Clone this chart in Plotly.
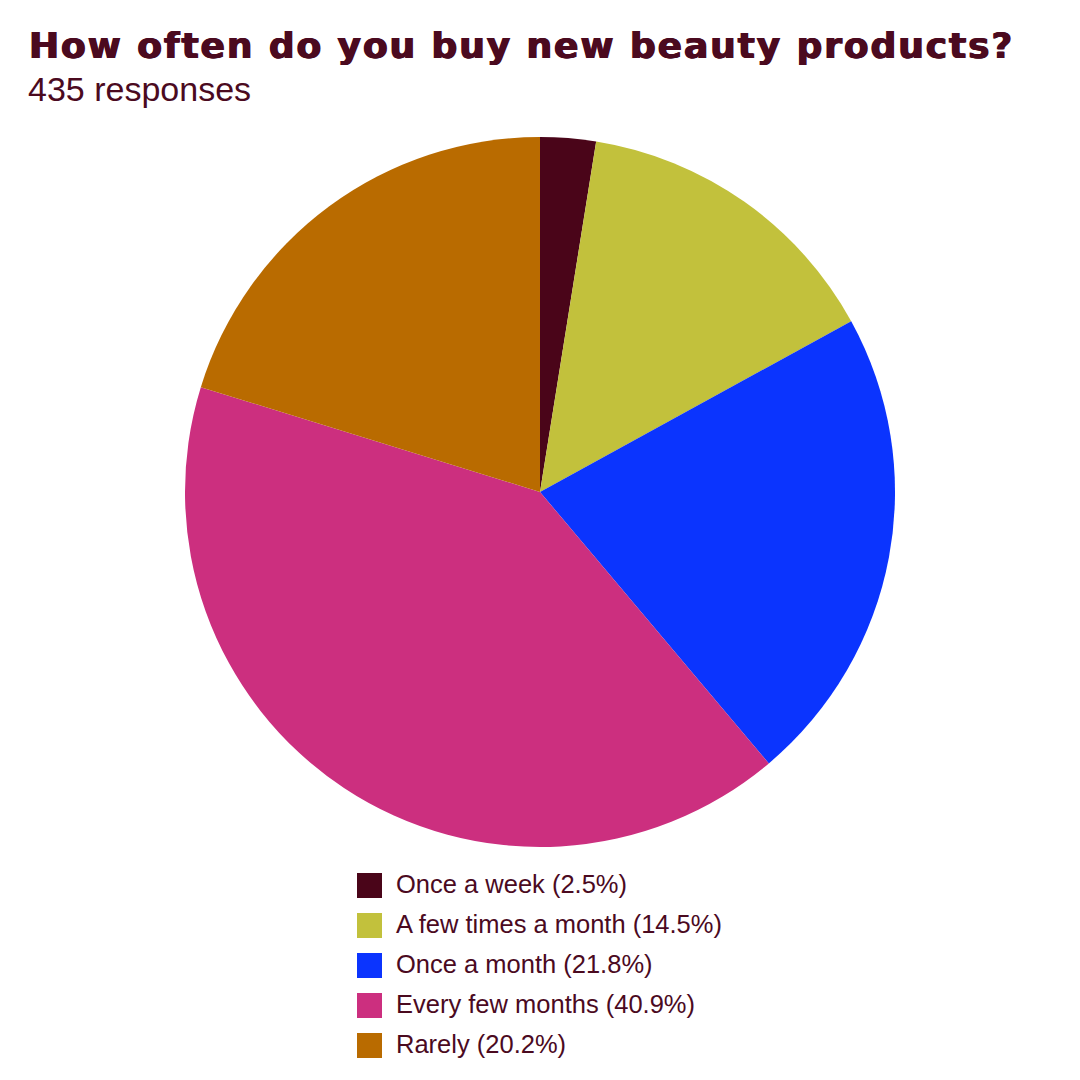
import plotly.graph_objects as go

title_text = "How often do you buy new beauty products?"
subtitle_text = "435 responses"
categories = ["Once a week", "A few times a month", "Once a month", "Every few months", "Rarely"]
counts = [11, 63, 95, 178, 88]
percent_labels = ["2.5%", "14.5%", "21.8%", "40.9%", "20.2%"]
colors = ["#4a0519", "#c2c13c", "#0b34fe", "#cc2f7f", "#b96b00"]

W, H = 1080, 1080
OFF = 8  # page offset of the plot div
text_color = "#4b0a1f"


def px(x):
    return (x - OFF) / W


def py(y):
    return 1 - (y - OFF) / H


fig = go.Figure()
fig.add_trace(go.Pie(
    labels=categories,
    values=counts,
    sort=False,
    direction="clockwise",
    rotation=0,
    textinfo="none",
    marker=dict(colors=colors, line=dict(width=0)),
    showlegend=False,
    domain=dict(x=[px(185), px(895)], y=[py(847), py(137)]),
))

annotations = [
    dict(text=f'<span style="letter-spacing:1.9px">{title_text}</span>',
         x=px(27), y=py(45.5), xref="paper", yref="paper",
         xanchor="left", yanchor="middle", showarrow=False,
         font=dict(family="DejaVu Sans", size=36, color=text_color, weight="bold",
                   shadow=f"0.7px 0 0 {text_color}, -0.7px 0 0 {text_color}")),
    dict(text=subtitle_text, x=px(26), y=py(89.5), xref="paper", yref="paper",
         xanchor="left", yanchor="middle", showarrow=False,
         font=dict(family="Liberation Sans, Arial", size=34, color=text_color)),
]
shapes = []
row0, step = 885.5, 40
for i, (cat, pct, col) in enumerate(zip(categories, percent_labels, colors)):
    cy = row0 + i * step
    shapes.append(dict(type="rect", xref="paper", yref="paper",
                       x0=px(357), x1=px(382), y0=py(cy + 12.5), y1=py(cy - 12.5),
                       fillcolor=col, line=dict(width=0)))
    annotations.append(dict(text=f"{cat} ({pct})", x=px(394), y=py(cy - 1.5),
                            xref="paper", yref="paper", xanchor="left", yanchor="middle",
                            showarrow=False,
                            font=dict(family="Liberation Sans, Arial", size=25.5, color=text_color)))

fig.update_layout(
    width=W, height=H,
    margin=dict(l=0, r=0, t=0, b=0),
    paper_bgcolor="white", plot_bgcolor="white",
    annotations=annotations, shapes=shapes,
)
fig.write_html("out.html")
